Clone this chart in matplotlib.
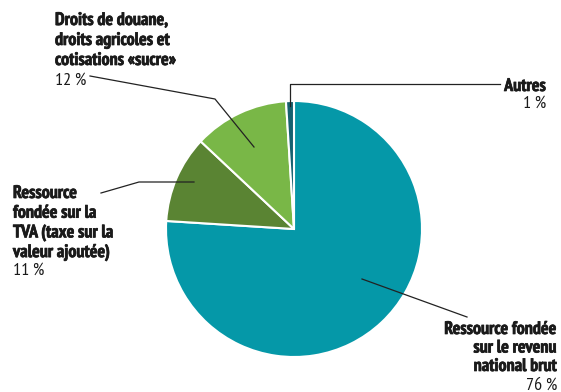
import matplotlib
matplotlib.use("Agg")
import matplotlib.pyplot as plt
import matplotlib.patheffects as pe

plt.rcParams['font.family'] = ['PT Sans Narrow', 'DejaVu Sans']

W, H = 561, 392

# EU own resources, share of total (%)
labels = ["Ressource fondée\nsur le revenu\nnational brut",
          "Ressource\nfondée sur la\nTVA (taxe sur la\nvaleur ajoutée)",
          "Droits de douane,\ndroits agricoles et\ncotisations «sucre»",
          "Autres"]
shares = [76, 11, 12, 1]
colors = ["#0598a8", "#5a8433", "#79b747", "#16616f"]


def py(y):
    # pixel rows run downward, data y upward
    return H - y


fig = plt.figure(figsize=(W / 100, H / 100), dpi=100)
ax = fig.add_axes([0, 0, 1, 1])

ax.pie(shares, colors=colors, startangle=90, counterclock=False,
       center=(294, py(229)), radius=128, frame=True,
       wedgeprops=dict(edgecolor="white", linewidth=1.5))
ax.set_xlim(0, W)
ax.set_ylim(0, H)
ax.set_aspect("auto")
ax.axis("off")

lw = 0.9
lc = "#222222"
# leader lines
ax.plot([90, 215, 254], [py(76), py(99), py(147)], color=lc, lw=lw)
ax.plot([500, 290, 290], [py(84), py(84), py(106)], color=lc, lw=lw)
ax.plot([101, 139, 194], [py(193), py(182), py(182)], color=lc, lw=lw)
ax.plot([362, 467], [py(279), py(317)], color=lc, lw=lw)

fs = 13
tc = "#1a1a1a"
heavy = [pe.withStroke(linewidth=0.5, foreground=tc)]


def block(x, first_base, name, share, ha, pitch=19.8, gap=19):
    # bold name lines, then the share in regular weight
    lines = name.split("\n")
    for i, line in enumerate(lines):
        ax.text(x, py(first_base + i * pitch), line, fontsize=fs, fontweight="bold",
                color=tc, ha=ha, va="baseline", path_effects=heavy)
    last = first_base + (len(lines) - 1) * pitch
    ax.text(x, py(last + gap), f"{share}\u2009%", fontsize=fs, color=tc,
            ha=ha, va="baseline")


block(55, 25, labels[2], shares[2], "left", pitch=20, gap=20)
block(546, 91, labels[3], shares[3], "right", gap=17)
block(13, 198, labels[1], shares[1], "left", pitch=19.7, gap=18)
block(557, 334, labels[0], shares[0], "right", pitch=18.5, gap=19)

fig.savefig("out.png", dpi=100)
